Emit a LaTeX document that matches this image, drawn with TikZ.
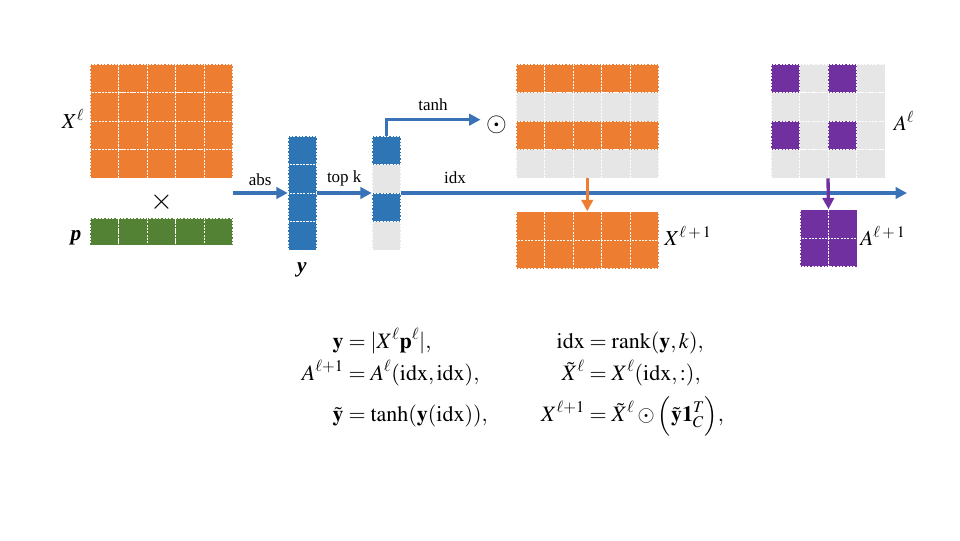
\documentclass[tikz,border=0pt]{standalone}
\usepackage{amsmath}
\usepackage{mathptmx}
\usepackage[no-math]{fontspec}
\setmainfont{Liberation Serif}
\usetikzlibrary{arrows.meta}
\definecolor{cOr}{HTML}{ED7D31}
\definecolor{cGr}{HTML}{E6E6E6}
\definecolor{cBl}{HTML}{2E75B6}
\definecolor{cGn}{HTML}{548235}
\definecolor{cPu}{HTML}{7030A0}
\definecolor{cAr}{HTML}{3A72B8}
\newcommand\cellat[5]{\fill[#5] (#1,#2) rectangle ++(#3,#4); \draw[cellst] (#1,#2) rectangle ++(#3,#4);}
\newcommand\bsup[1]{^{\hbox{\fontsize{12}{13}\selectfont$#1$}}}
\begin{document}
\begin{tikzpicture}[x=0.75pt,y=-0.75pt,
  cellst/.style={draw=white,line width=0.6pt,dash pattern=on 1.5pt off 1pt},
  mat/.style={rectangle,inner sep=0pt,draw=none},
  arrw/.style={line width=2.5pt,-{Triangle[length=8.5pt,width=8.5pt]}},
  lbl/.style={font=\fontsize{12.75}{14}\selectfont,inner sep=1pt},
  mlbl/.style={font=\fontsize{16}{18}\selectfont,inner sep=1pt}]
\useasboundingbox (0,0) rectangle (960,540);
% matrix nodes (bounding boxes)
\node[mat,minimum width=142.5*0.75pt,minimum height=114*0.75pt] (X) at (161.25,121) {};
\node[mat,minimum width=142.5*0.75pt,minimum height=27*0.75pt] (p) at (161.25,231.5) {};
\node[mat,minimum width=28.5*0.75pt,minimum height=114*0.75pt] (yv) at (302.25,193) {};
\node[mat,minimum width=28.5*0.75pt,minimum height=114*0.75pt] (tk) at (386.25,193) {};
\node[mat,minimum width=142.5*0.75pt,minimum height=114*0.75pt] (M) at (587.25,121) {};
\node[mat,minimum width=142.5*0.75pt,minimum height=57*0.75pt] (Xn) at (587.25,240) {};
\node[mat,minimum width=114*0.75pt,minimum height=114*0.75pt] (A) at (828,121) {};
\node[mat,minimum width=57*0.75pt,minimum height=57*0.75pt] (An) at (828.5,238) {};
% cells
\foreach \r in {0,...,3}{\foreach \c in {0,...,4}{\cellat{{90+\c*28.5}}{{64+\r*28.5}}{28.5}{28.5}{cOr}}}
\foreach \c in {0,...,4}{\cellat{{90+\c*28.5}}{218}{28.5}{27}{cGn}}
\foreach \r in {0,...,3}{\cellat{288}{{136+\r*28.5}}{28.5}{28.5}{cBl}}
\foreach \r/\cc in {0/cBl,1/cGr,2/cBl,3/cGr}{\cellat{372}{{136+\r*28.5}}{28.5}{28.5}{\cc}}
\foreach \r/\cc in {0/cOr,1/cGr,2/cOr,3/cGr}{\foreach \c in {0,...,4}{\cellat{{516+\c*28.5}}{{64+\r*28.5}}{28.5}{28.5}{\cc}}}
\foreach \r in {0,1}{\foreach \c in {0,...,4}{\cellat{{516+\c*28.5}}{{211.5+\r*28.5}}{28.5}{28.5}{cOr}}}
\foreach \r in {0,...,3}{\foreach \c in {0,...,3}{%
  \ifodd\r \def\cc{cGr}\else\ifodd\c \def\cc{cGr}\else\def\cc{cPu}\fi\fi
  \cellat{{771+\c*28.5}}{{64+\r*28.5}}{28.5}{28.5}{\cc}}}
\foreach \r in {0,1}{\foreach \c in {0,1}{\cellat{{800+\c*28.5}}{{209.5+\r*28.5}}{28.5}{28.5}{cPu}}}
% labels
\node[mlbl] (lX) at (73,119) {$X\bsup{\ell}$};
\node[mlbl] (lp) at (76,238) {\textbf{\textit{p}}};
\node[font=\fontsize{22}{24}\selectfont,inner sep=1pt] (times) at (161.7,201.7) {$\times$};
\node[mlbl] (ly) at (302,270) {\textbf{\textit{y}}};
\node[mlbl] (lXn) at (688,236) {$X\bsup{\ell+1}$};
\node[mlbl] (lA) at (904,121) {$A\bsup{\ell}$};
\node[mlbl] (lAn) at (883,236) {$A\bsup{\ell+1}$};
\node[font=\fontsize{20}{24}\selectfont,inner sep=1pt] (od) at (496.5,125) {$\odot$};
% connectors
\coordinate (absst) at (232.5,193);
\coordinate (idxend) at (907,193);
\draw[arrw,cAr] (absst) -- node[lbl,above=3pt,text=black] (labs) {abs} (yv.west);
\draw[arrw,cAr] (yv.east) -- node[lbl,above=3pt,text=black] (ltop) {top k} (tk.west);
\draw[arrw,cAr] (tk.north) |- ([yshift=4pt,xshift=-3pt]od.west);
\node[lbl] (ltanh) at (433,105) {tanh};
\draw[arrw,cAr] (tk.east) -- (idxend);
\node[lbl] (lidx) at (455,178) {idx};
\draw[arrw,cOr] (M.south) -- (Xn.north);
\draw[arrw,cPu] (A.south) -- (An.north);
% equations
\node[font=\fontsize{16.5}{20}\selectfont,inner sep=0pt] (eq) at (513,382) {$\begin{aligned}
\mathbf{y} &= |X^{\ell}\mathbf{p}^{\ell}|, & \hspace{30pt}\mathrm{idx} &= \mathrm{rank}(\mathbf{y},k),\\[-1pt]
A^{\ell+1} &= A^{\ell}(\mathrm{idx},\mathrm{idx}), & \hspace{30pt}\tilde{X}^{\ell} &= X^{\ell}(\mathrm{idx},:),\\[2pt]
\tilde{\mathbf{y}} &= \tanh(\mathbf{y}(\mathrm{idx})), & \hspace{30pt}X^{\ell+1} &= \tilde{X}^{\ell}\odot\Bigl(\tilde{\mathbf{y}}\mathbf{1}_C^T\Bigr),
\end{aligned}$};
\end{tikzpicture}
\end{document}
